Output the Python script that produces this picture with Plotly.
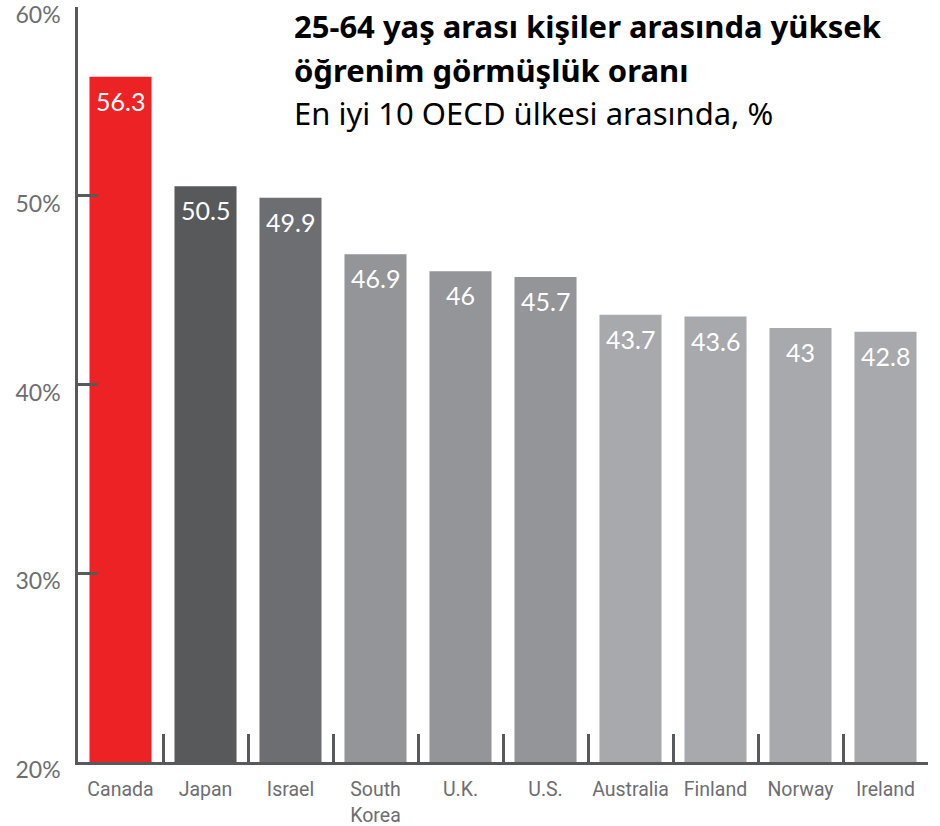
import plotly.graph_objects as go

countries = ["Canada", "Japan", "Israel", "South<br>Korea", "U.K.", "U.S.",
             "Australia", "Finland", "Norway", "Ireland"]
values = [56.3, 50.5, 49.9, 46.9, 46, 45.7, 43.7, 43.6, 43, 42.8]
labels = ["56.3", "50.5", "49.9", "46.9", "46", "45.7", "43.7", "43.6", "43", "42.8"]
colors = ["#ED2224", "#58595B", "#6D6E71", "#939598", "#939598", "#939598",
          "#A7A9AC", "#A7A9AC", "#A7A9AC", "#A7A9AC"]
ytick_vals = [20, 30, 40, 50, 60]
ytick_text = ["20%", "30%", "40%", "50%", "60%"]

title_line1 = "25-64 yaş arası kişiler arasında yüksek"
title_line2 = "öğrenim görmüşlük oranı"
subtitle = "En iyi 10 OECD ülkesi arasında, %"

# the page body margin is removed below, so figure coords == window coords
W, H = 940, 826
L, R, T, B = 78, 12, 7, 64
PH = H - T - B


def py(win_y):
    """paper y for a window y coordinate"""
    return 1 - (win_y - T) / PH


def px(win_x):
    return (win_x - L) / (W - L - R)


fig = go.Figure(go.Bar(
    x=countries, y=values, marker_color=colors, marker_line_width=0,
    width=0.73, hoverinfo="x+y",
))

for c, v, t in zip(countries, values, labels):
    fig.add_annotation(
        x=c, y=v, xref="x", yref="y", text=t, showarrow=False,
        xanchor="center", yanchor="top", yshift=-7,
        font=dict(family="Lato, sans-serif", size=25, color="white"),
    )

fig.update_layout(
    width=W, height=H,
    margin=dict(l=L, r=R, t=T, b=B, autoexpand=False),
    plot_bgcolor="white", paper_bgcolor="white",
    showlegend=False,
)
fig.update_yaxes(
    range=[20, 60], tickvals=ytick_vals, ticktext=ytick_text,
    showgrid=False, zeroline=False, automargin=False,
    showline=True, linecolor="#58595B", linewidth=2.5,
    ticks="inside", ticklen=20, tickwidth=2.5, tickcolor="#58595B",
    tickfont=dict(family="Lato, sans-serif", size=23, color="#6D6E71"),
    ticklabelstandoff=10, ticklabelshift=8, ticklabeloverflow="allow",
)
fig.update_xaxes(
    showgrid=False, showline=True, linecolor="#58595B", linewidth=2.5,
    ticks="inside", ticklen=28, tickwidth=2.5, tickcolor="#58595B",
    tickson="boundaries", ticklabelstandoff=8, ticklabeloverflow="allow",
    tickangle=0, automargin=False,
    tickfont=dict(family="Roboto, sans-serif", size=19.5, color="#6D6E71"),
)

# title lines: baselines at window y 38, 82, 125
for txt, base, bold in [(title_line1, 38, True), (title_line2, 82, True),
                        (subtitle, 125, False)]:
    fig.add_annotation(
        xref="paper", yref="paper", x=px(292), y=py(base - 35),
        xanchor="left", yanchor="top", align="left", showarrow=False,
        text=("<b>" + txt + "</b>") if bold else txt,
        font=dict(family="Noto Sans, sans-serif", size=31, color="black"),
    )

fig.write_html("out.html", config={"displayModeBar": False},
               post_script="document.body.style.margin='0px';")
